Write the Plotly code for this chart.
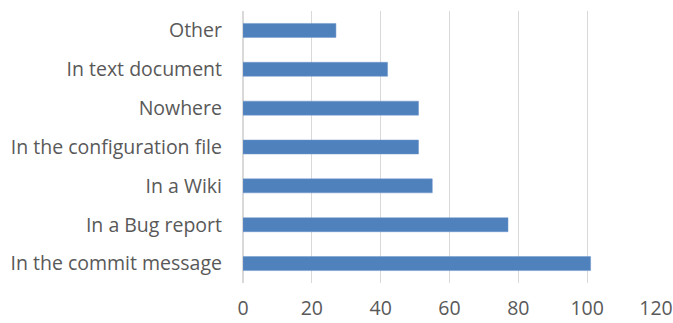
import plotly.graph_objects as go

categories = [
    "In the commit message",
    "In a Bug report",
    "In a Wiki",
    "In the configuration file",
    "Nowhere",
    "In text document",
    "Other",
]
counts = [101, 77, 55, 51, 51, 42, 27]
x_ticks = [0, 20, 40, 60, 80, 100, 120]

fig = go.Figure(
    go.Bar(
        y=categories,
        x=counts,
        orientation="h",
        marker=dict(color="#4F81BD", line=dict(color="#6F97CC", width=0.5)),
    )
)

fig.update_layout(
    width=673,
    height=323,
    margin=dict(l=243, r=17, t=11, b=40, autoexpand=False),
    paper_bgcolor="white",
    plot_bgcolor="white",
    bargap=0.64,
    showlegend=False,
    font=dict(family="Open Sans", size=19.5, color="#595959"),
)
fig.update_xaxes(
    range=[0, 120],
    tickvals=x_ticks,
    showgrid=True,
    gridcolor="#D9D9D9",
    gridwidth=1,
    zeroline=True,
    zerolinecolor="#D9D9D9",
    showline=False,
    ticks="",
    ticklabelstandoff=11,
    automargin=False,
    fixedrange=True,
)
fig.update_yaxes(
    categoryorder="array",
    categoryarray=categories,
    showgrid=False,
    ticks="",
    ticklabelstandoff=20,
    automargin=False,
    fixedrange=True,
)

fig.write_html("out.html", config={"displayModeBar": False})
